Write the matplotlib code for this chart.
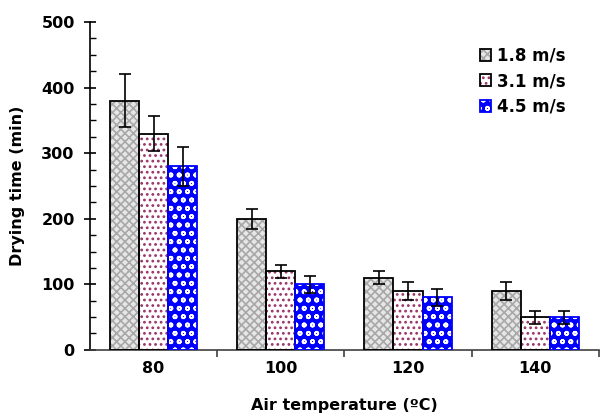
import matplotlib.pyplot as plt
import numpy as np
from matplotlib.patches import Patch
from matplotlib.ticker import MultipleLocator

plt.rcParams['font.family'] = ['DejaVu Sans']
plt.rcParams['font.weight'] = 'bold'
plt.rcParams['hatch.linewidth'] = 1.2

# data
temps = ['80', '100', '120', '140']
series = ['1.8 m/s', '3.1 m/s', '4.5 m/s']
means = [
    [380, 200, 110, 90],
    [330, 120, 90, 50],
    [280, 100, 80, 50],
]
errs = [
    [40, 15, 10, 14],
    [27, 10, 14, 10],
    [30, 13, 13, 10],
]

# fill, hatch, hatch colour, edge colour
styles = [
    ('#e6e6e6', 'xxxx', '#a8a8a8', 'black'),
    ('white', '...', '#993366', 'black'),
    ('#0000ff', 'oo', 'white', '#0000ff'),
]

fig = plt.figure(figsize=(6, 4.16), dpi=100)
ax = fig.add_axes([0.15, 0.159, 0.848, 0.788])

x = np.arange(len(temps))
w = 0.228
handles = []
for i, (vals, ee, st) in enumerate(zip(means, errs, styles)):
    face, hatch, hcol, ecol = st
    pos = x + (i - 1) * w
    # hatched fill first, then the outline on top
    ax.bar(pos, vals, w, color=face, edgecolor=hcol, hatch=hatch, linewidth=0, zorder=2)
    ax.bar(pos, vals, w, fill=False, edgecolor=ecol, linewidth=1.3, zorder=3)
    ax.errorbar(pos, vals, yerr=ee, fmt='none', ecolor='black', elinewidth=1.2,
                capsize=4.5, capthick=1.2, zorder=4)
    # legend key: hatched square with its own outline on top
    handles.append((Patch(facecolor=face, edgecolor=hcol, hatch=hatch, linewidth=0),
                    Patch(fill=False, edgecolor=ecol, linewidth=1.3)))

ax.set_xlim(-0.5, 3.5)
ax.set_ylim(0, 500)

ax.spines['top'].set_visible(False)
ax.spines['right'].set_visible(False)
ax.spines['left'].set_linewidth(1.2)
ax.spines['bottom'].set_linewidth(1.2)
ax.spines['bottom'].set_color('#404040')

ax.yaxis.set_major_locator(MultipleLocator(100))
ax.yaxis.set_minor_locator(MultipleLocator(25))
ax.tick_params(axis='y', which='major', direction='inout', length=8, width=1.2,
               labelsize=11.5, pad=7)
ax.tick_params(axis='y', which='minor', direction='in', length=4, width=1.0)

ax.set_xticks(x)
ax.set_xticklabels(temps)
ax.set_xticks(np.arange(0.5, 3.6, 1.0), minor=True)
ax.tick_params(axis='x', which='major', length=0, labelsize=11.5, pad=8)
ax.tick_params(axis='x', which='minor', direction='out', length=5, width=1.2, color='#404040')

ax.set_ylabel('Drying time (min)', fontsize=11.5, fontweight='bold', labelpad=12)
ax.set_xlabel('Air temperature (ºC)', fontsize=11.5, fontweight='bold', labelpad=16)

leg = ax.legend(handles, series, loc='upper right', bbox_to_anchor=(0.935, 0.925),
                frameon=False, fontsize=12, handlelength=0.7, handleheight=0.7,
                handletextpad=0.35, labelspacing=0.45, borderpad=0, borderaxespad=0)

fig.savefig('out.png', dpi=100)
